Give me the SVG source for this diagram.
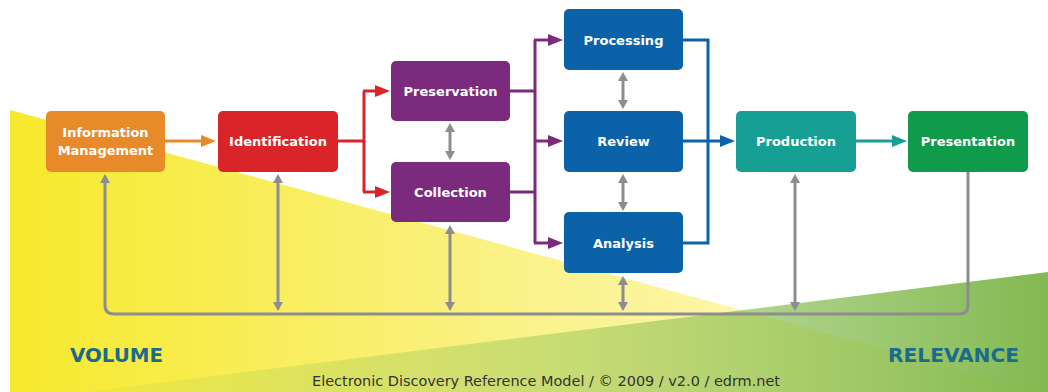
<svg xmlns="http://www.w3.org/2000/svg" width="1048" height="392" viewBox="0 0 1048 392">
<defs>
<linearGradient id="gy" x1="10" y1="0" x2="1048" y2="0" gradientUnits="userSpaceOnUse">
<stop offset="0" stop-color="#f7e92c"/>
<stop offset="0.5" stop-color="#faf28a"/>
<stop offset="1" stop-color="#fffbd2"/>
</linearGradient>
<linearGradient id="gg" x1="60" y1="0" x2="1048" y2="0" gradientUnits="userSpaceOnUse">
<stop offset="0" stop-color="#8cc152" stop-opacity="0.05"/>
<stop offset="0.5" stop-color="#8cc152" stop-opacity="0.45"/>
<stop offset="1" stop-color="#7cb548" stop-opacity="0.95"/>
</linearGradient>
<marker id="mo" markerUnits="userSpaceOnUse" markerWidth="15" markerHeight="12" refX="1" refY="6" orient="auto"><path d="M0,0 L15,6 L0,12 z" fill="#e8892a"/></marker>
<marker id="mr" markerUnits="userSpaceOnUse" markerWidth="15" markerHeight="12" refX="1" refY="6" orient="auto"><path d="M0,0 L15,6 L0,12 z" fill="#d9252a"/></marker>
<marker id="mp" markerUnits="userSpaceOnUse" markerWidth="15" markerHeight="12" refX="1" refY="6" orient="auto"><path d="M0,0 L15,6 L0,12 z" fill="#7c2a7e"/></marker>
<marker id="mb" markerUnits="userSpaceOnUse" markerWidth="15" markerHeight="12" refX="1" refY="6" orient="auto"><path d="M0,0 L15,6 L0,12 z" fill="#0b62a8"/></marker>
<marker id="mt" markerUnits="userSpaceOnUse" markerWidth="15" markerHeight="12" refX="1" refY="6" orient="auto"><path d="M0,0 L15,6 L0,12 z" fill="#16a094"/></marker>
<marker id="mg" markerUnits="userSpaceOnUse" markerWidth="9" markerHeight="10" refX="1" refY="5" orient="auto-start-reverse"><path d="M0,0 L9,5 L0,10 z" fill="#8c8c91"/></marker>
</defs>
<style>
.box text{font-family:"DejaVu Sans","Liberation Sans",sans-serif;font-weight:bold;font-size:13px;fill:#ffffff;text-anchor:middle}
.c{fill:none;stroke-width:3}
.g{stroke:#8c8c91}
.lbl{font-family:"Liberation Sans Narrow","DejaVu Sans Condensed","Liberation Sans",sans-serif;font-weight:bold;font-size:20px;fill:#1c6a8c}
</style>
<rect width="1048" height="392" fill="#ffffff"/>
<polygon points="10,110 1048,394 10,394" fill="url(#gy)"/>
<polygon points="1048,272 1048,394 70,394" fill="url(#gg)"/>

<g id="connectors">
<path class="c" stroke="#e8892a" d="M165,141 H202" marker-end="url(#mo)"/>
<path class="c" stroke="#d9252a" d="M338,141 H364 M364,91 V192"/>
<path class="c" stroke="#d9252a" d="M363,91 H376" marker-end="url(#mr)"/>
<path class="c" stroke="#d9252a" d="M363,192 H376" marker-end="url(#mr)"/>
<path class="c" stroke="#7c2a7e" d="M510,91 H535 M510,192 H535 M535,40 V243"/>
<path class="c" stroke="#7c2a7e" d="M534,40 H549" marker-end="url(#mp)"/>
<path class="c" stroke="#7c2a7e" d="M534,141 H549" marker-end="url(#mp)"/>
<path class="c" stroke="#7c2a7e" d="M534,243 H549" marker-end="url(#mp)"/>
<path class="c" stroke="#0b62a8" d="M683,40 H708 V243 H683"/>
<path class="c" stroke="#0b62a8" d="M683,141 H721" marker-end="url(#mb)"/>
<path class="c" stroke="#16a094" d="M856,141 H893" marker-end="url(#mt)"/>
<path class="c g" d="M450,131 V152" marker-start="url(#mg)" marker-end="url(#mg)"/>
<path class="c g" d="M623,80 V101" marker-start="url(#mg)" marker-end="url(#mg)"/>
<path class="c g" d="M623,182 V203" marker-start="url(#mg)" marker-end="url(#mg)"/>
<path class="c g" d="M105,182 V305 Q105,314 114,314 H959 Q968,314 968,305 V172" marker-start="url(#mg)"/>
<path class="c g" d="M278,182 V303" marker-start="url(#mg)" marker-end="url(#mg)"/>
<path class="c g" d="M450,233 V303" marker-start="url(#mg)" marker-end="url(#mg)"/>
<path class="c g" d="M623,284 V303" marker-start="url(#mg)" marker-end="url(#mg)"/>
<path class="c g" d="M795,182 V303" marker-start="url(#mg)" marker-end="url(#mg)"/>
</g>

<g id="information-management" class="box"><rect x="46" y="111" width="119" height="61" rx="5" fill="#e8892a"/><text x="105.5" y="137">Information</text><text x="105.5" y="155">Management</text></g>
<g id="identification" class="box"><rect x="218" y="111" width="120" height="61" rx="5" fill="#d9252a"/><text x="278" y="146">Identification</text></g>
<g id="preservation" class="box"><rect x="391" y="61" width="119" height="60" rx="5" fill="#7c2a7e"/><text x="450.5" y="96">Preservation</text></g>
<g id="collection" class="box"><rect x="391" y="162" width="119" height="60" rx="5" fill="#7c2a7e"/><text x="450.5" y="197">Collection</text></g>
<g id="processing" class="box"><rect x="564" y="9" width="119" height="61" rx="5" fill="#0b62a8"/><text x="623.5" y="45">Processing</text></g>
<g id="review" class="box"><rect x="564" y="111" width="119" height="61" rx="5" fill="#0b62a8"/><text x="623.5" y="146">Review</text></g>
<g id="analysis" class="box"><rect x="564" y="212" width="119" height="61" rx="5" fill="#0b62a8"/><text x="623.5" y="248">Analysis</text></g>
<g id="production" class="box"><rect x="736" y="111" width="120" height="61" rx="5" fill="#16a094"/><text x="796" y="146">Production</text></g>
<g id="presentation" class="box"><rect x="908" y="111" width="120" height="61" rx="5" fill="#109a4b"/><text x="968" y="146">Presentation</text></g>

<text class="lbl" x="70" y="362" textLength="93" lengthAdjust="spacingAndGlyphs">VOLUME</text>
<text class="lbl" x="888" y="362" textLength="131" lengthAdjust="spacingAndGlyphs">RELEVANCE</text>
<text x="312" y="386" font-family="Liberation Sans Narrow, DejaVu Sans Condensed, Liberation Sans, sans-serif" font-size="14" fill="#333333" textLength="468" lengthAdjust="spacingAndGlyphs">Electronic Discovery Reference Model / © 2009 / v2.0 / edrm.net</text>
</svg>
